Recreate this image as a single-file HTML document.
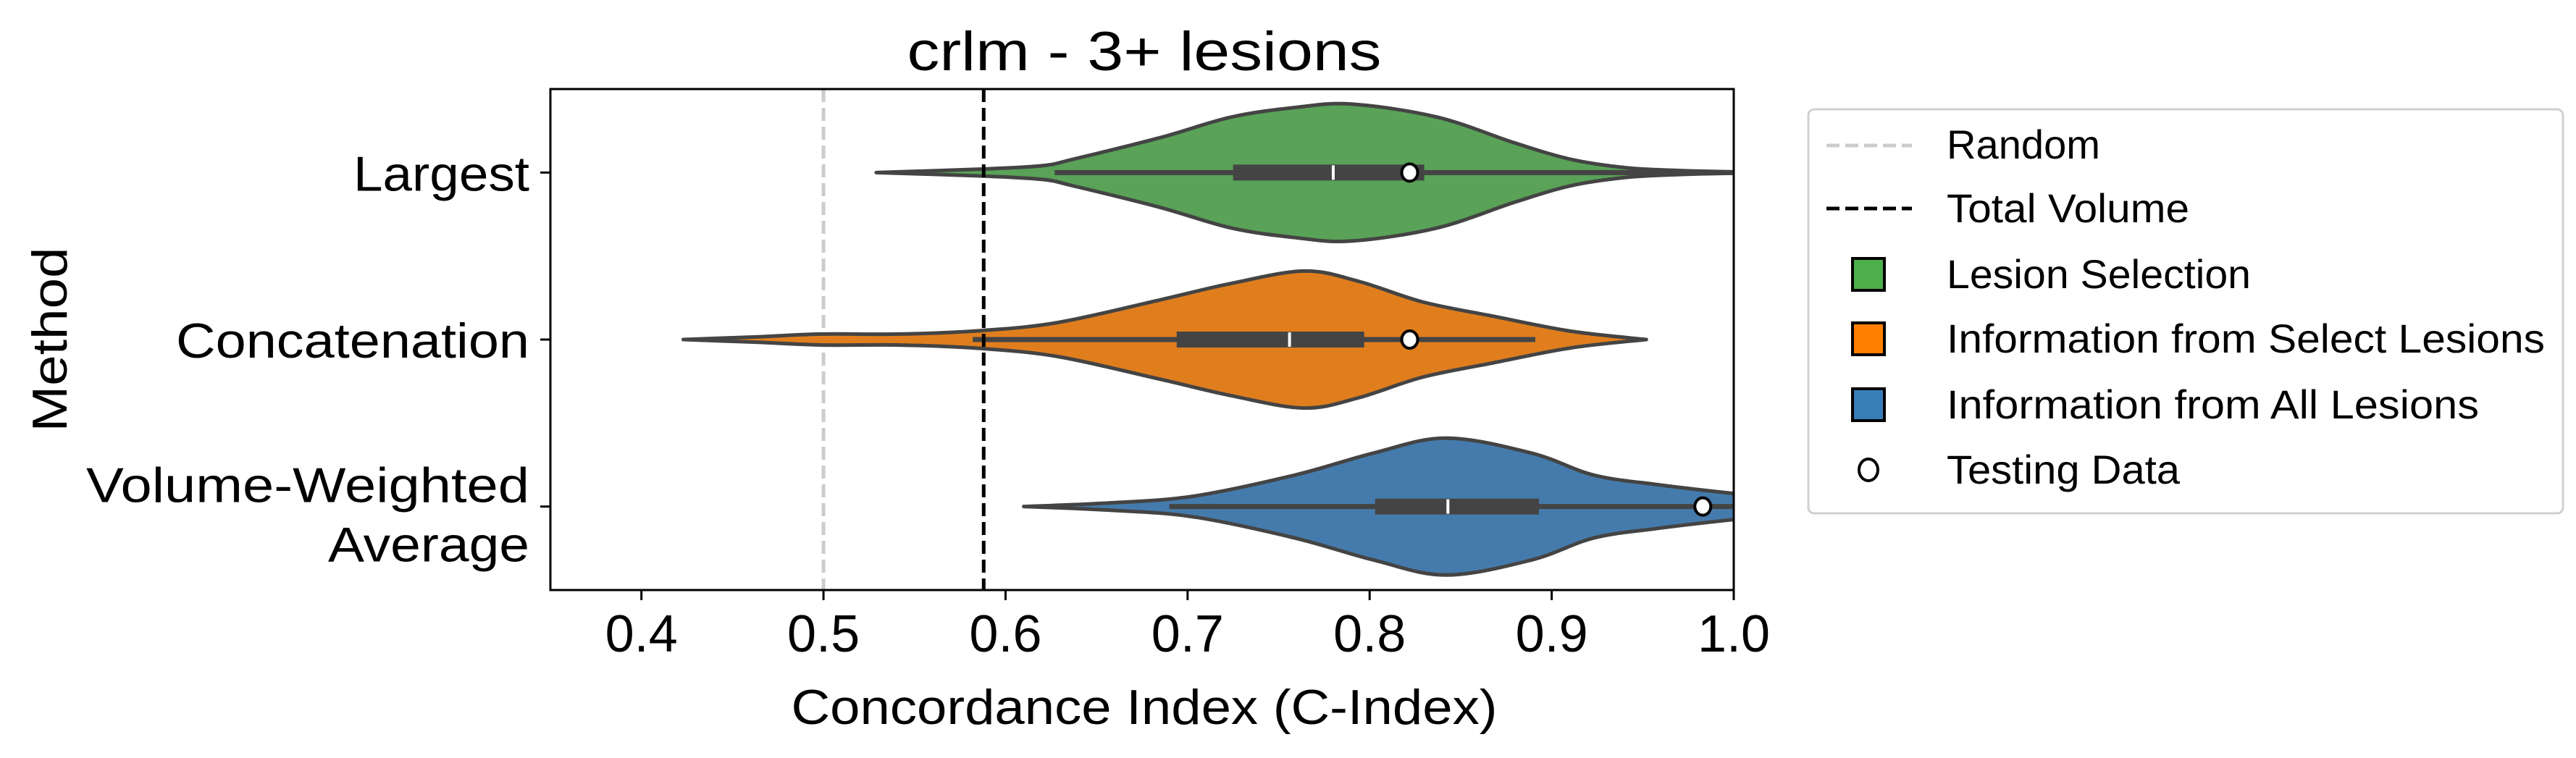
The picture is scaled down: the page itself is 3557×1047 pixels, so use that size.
<!DOCTYPE html>
<html><head><meta charset="utf-8"><style>
html,body{margin:0;padding:0;background:#fff;}
svg{display:block;font-family:"Liberation Sans",sans-serif;}
</style></head><body>
<svg id="chart" width="3557" height="1047" viewBox="0 0 3557 1047" xmlns="http://www.w3.org/2000/svg">
<defs><clipPath id="plotclip"><rect x="760" y="123" width="1634" height="692"/></clipPath></defs>
<text x="1580" y="97" font-size="76" text-anchor="middle" textLength="655" lengthAdjust="spacingAndGlyphs">crlm - 3+ lesions</text>
<g id="plot" clip-path="url(#plotclip)"></g>
<g id="axes"></g>
<text x="1580" y="1000" font-size="68" text-anchor="middle" textLength="975" lengthAdjust="spacingAndGlyphs">Concordance Index (C-Index)</text>
<text transform="translate(92,469) rotate(-90)" font-size="68" text-anchor="middle" textLength="255" lengthAdjust="spacingAndGlyphs">Method</text>
<g>
<rect x="2497" y="151" width="1042" height="558" rx="8" fill="#fff" stroke="#d0d0d0" stroke-width="3"/>
<line x1="2522" y1="201" x2="2640" y2="201" stroke="#cccccc" stroke-width="5" stroke-dasharray="18,8"/>
<text x="2688" y="219" font-size="56" textLength="212" lengthAdjust="spacingAndGlyphs">Random</text>
<line x1="2522" y1="288" x2="2640" y2="288" stroke="#000" stroke-width="5" stroke-dasharray="18,8"/>
<text x="2688" y="307" font-size="56" textLength="335" lengthAdjust="spacingAndGlyphs">Total Volume</text>
<rect x="2558" y="357" width="44" height="44" fill="#4daf4a" stroke="#000" stroke-width="4"/>
<text x="2688" y="398" font-size="56" textLength="420" lengthAdjust="spacingAndGlyphs">Lesion Selection</text>
<rect x="2558" y="446" width="44" height="44" fill="#ff7f00" stroke="#000" stroke-width="4"/>
<text x="2688" y="487" font-size="56" textLength="826" lengthAdjust="spacingAndGlyphs">Information from Select Lesions</text>
<rect x="2558" y="537" width="44" height="44" fill="#377eb8" stroke="#000" stroke-width="4"/>
<text x="2688" y="578" font-size="56" textLength="735" lengthAdjust="spacingAndGlyphs">Information from All Lesions</text>
<ellipse cx="2580" cy="649" rx="13" ry="15" fill="#fff" stroke="#000" stroke-width="4"/>
<text x="2688" y="668" font-size="56" textLength="322" lengthAdjust="spacingAndGlyphs">Testing Data</text>
</g>
</svg>
<script>
const categories = ["Largest", "Concatenation", "Volume-Weighted Average"];
const xTicks = [0.4, 0.5, 0.6, 0.7, 0.8, 0.9, 1.0];
const xTickLabels = ["0.4", "0.5", "0.6", "0.7", "0.8", "0.9", "1.0"];
const randomLine = 0.5;
const totalVolumeLine = 0.588;
const densX0 = [0.529, 0.586, 0.62, 0.638, 0.685, 0.724, 0.759, 0.79, 0.837, 0.88, 0.911, 0.941, 0.97, 1.0, 1.03];
const densW0 = [0, 0.05, 0.1, 0.2, 0.51, 0.81, 0.95, 1.0, 0.81, 0.43, 0.19, 0.07, 0.03, 0.01, 0];
const densX1 = [0.423, 0.464, 0.499, 0.542, 0.586, 0.629, 0.685, 0.724, 0.764, 0.794, 0.829, 0.868, 0.911, 0.952];
const densW1 = [0, 0.04, 0.08, 0.08, 0.13, 0.25, 0.58, 0.82, 1.0, 0.85, 0.55, 0.34, 0.12, 0];
const densX2 = [0.61, 0.655, 0.703, 0.759, 0.802, 0.842, 0.889, 0.923, 0.958, 1.0, 1.05, 1.1];
const densW2 = [0, 0.05, 0.15, 0.46, 0.78, 1.0, 0.78, 0.46, 0.32, 0.19, 0.06, 0];
const whiskerLo = [0.627, 0.582, 0.69];
const whiskerHi = [1.02, 0.891, 1.02];
const q1 = [0.725, 0.694, 0.803];
const q3 = [0.83, 0.797, 0.893];
const medians = [0.78, 0.756, 0.843];
const testing = [0.822, 0.822, 0.983];
const fills = ["#59a257", "#e07e1e", "#457bac"];

const NS = "http://www.w3.org/2000/svg";
const X0 = 760, X1 = 2394, Y0 = 123, Y1 = 815, DMIN = 0.35, DMAX = 1.0;
const xs = v => X0 + (v - DMIN) / (DMAX - DMIN) * (X1 - X0);
const band = (Y1 - Y0) / categories.length;
const ys = i => Y0 + band * (i + 0.5);
const maxHalf = band * 0.41;
function mk(tag, attrs, parent) { const e = document.createElementNS(NS, tag); for (const k in attrs) e.setAttribute(k, attrs[k]); parent.appendChild(e); return e; }
const plot = document.getElementById('plot');
const axes = document.getElementById('axes');

let l = mk('line', {x1: xs(randomLine), x2: xs(randomLine), y1: Y0, y2: Y1, stroke: '#cccccc', 'stroke-width': 5, 'stroke-dasharray': '18,8'}, plot);



const dens = [[densX0, densW0], [densX1, densW1], [densX2, densW2]];
function smoothPath(pts) {
  let d = 'M' + pts[0][0] + ',' + pts[0][1];
  for (let i = 0; i < pts.length - 1; i++) {
    const p0 = pts[Math.max(0, i - 1)], p1 = pts[i], p2 = pts[i + 1], p3 = pts[Math.min(pts.length - 1, i + 2)];
    const c1x = p1[0] + (p2[0] - p0[0]) / 6, c1y = p1[1] + (p2[1] - p0[1]) / 6;
    const c2x = p2[0] - (p3[0] - p1[0]) / 6, c2y = p2[1] - (p3[1] - p1[1]) / 6;
    d += ' C' + c1x + ',' + c1y + ' ' + c2x + ',' + c2y + ' ' + p2[0] + ',' + p2[1];
  }
  return d;
}
categories.forEach((c, i) => {
  const [dx, dw] = dens[i];
  const cy = ys(i);
  const top = dx.map((v, k) => [xs(v), cy - dw[k] * maxHalf]);
  const bot = dx.map((v, k) => [xs(v), cy + dw[k] * maxHalf]).reverse();
  const d = smoothPath(top) + ' L' + smoothPath(bot).slice(1) + ' Z';
  const v = mk('path', {d: d, fill: fills[i], stroke: '#444', 'stroke-width': 5, 'stroke-linejoin': 'round'}, plot);
  
  
  const w = mk('line', {x1: xs(whiskerLo[i]), x2: xs(whiskerHi[i]), y1: cy, y2: cy, stroke: '#444', 'stroke-width': 7}, plot);
  
  
  const b = mk('rect', {x: xs(q1[i]), y: cy - 11, width: xs(q3[i]) - xs(q1[i]), height: 22, fill: '#444'}, plot);
  
  
  const m = mk('line', {x1: xs(medians[i]), x2: xs(medians[i]), y1: cy - 10, y2: cy + 10, stroke: '#fff', 'stroke-width': 4}, plot);
  
  
});

l = mk('line', {x1: xs(totalVolumeLine), x2: xs(totalVolumeLine), y1: Y0, y2: Y1, stroke: '#000', 'stroke-width': 5, 'stroke-dasharray': '18,8'}, plot);



categories.forEach((c, i) => {
  const p = mk('ellipse', {cx: xs(testing[i]), cy: ys(i), rx: 11, ry: 12, fill: '#fff', stroke: '#000', 'stroke-width': 4}, plot);
  
  
});

const frame = mk('rect', {x: X0, y: Y0, width: X1 - X0, height: Y1 - Y0, fill: 'none', stroke: '#000', 'stroke-width': 3}, axes);



xTicks.forEach((t, k) => {
  const tk = mk('line', {x1: xs(t), x2: xs(t), y1: Y1, y2: Y1 + 14, stroke: '#000', 'stroke-width': 3}, axes);
  
  
  const tl = mk('text', {x: xs(t), y: 900, 'font-size': 72, 'text-anchor': 'middle'}, axes);
  tl.textContent = xTickLabels[k];
  
  
});

const yLabelLines = [["Largest"], ["Concatenation"], ["Volume-Weighted", "Average"]];
const yLabelLens = [[243], [488], [612, 278]];
categories.forEach((c, i) => {
  const tk = mk('line', {x1: X0 - 14, x2: X0, y1: ys(i), y2: ys(i), stroke: '#000', 'stroke-width': 3}, axes);
  
  
  const lines = yLabelLines[i];
  const off = lines.length > 1 ? 35 : 25;
  lines.forEach((s, j) => {
    const yy = ys(i) + off + (j - (lines.length - 1) / 2) * 82;
    const tl = mk('text', {x: 731, y: yy, 'font-size': 68, 'text-anchor': 'end', textLength: yLabelLens[i][j], lengthAdjust: 'spacingAndGlyphs'}, axes);
    tl.textContent = s;
    
    
  });
});
</script>
</body></html>
